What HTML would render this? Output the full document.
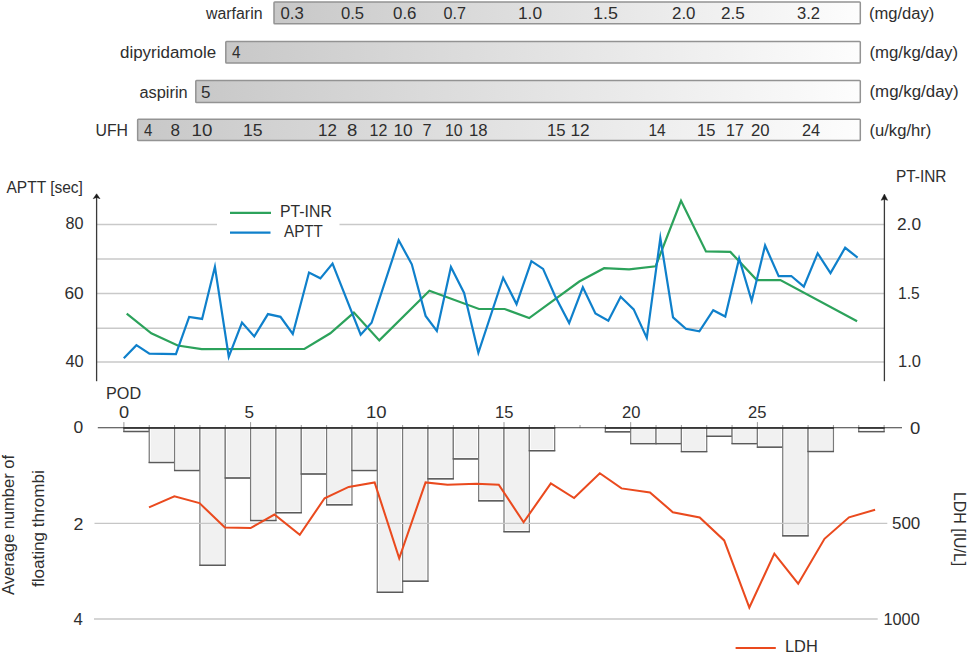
<!DOCTYPE html>
<html><head><meta charset="utf-8"><style>
html,body{margin:0;padding:0;background:#fff;width:967px;height:654px;overflow:hidden}
svg{display:block}
text{font-family:"Liberation Sans", sans-serif;fill:#2e2e2e}
</style></head><body>
<svg width="967" height="654" viewBox="0 0 967 654">
<defs>
<linearGradient id="gb" x1="0" x2="1" y1="0" y2="0">
<stop offset="0" stop-color="#c8c8c8"/><stop offset="1" stop-color="#fdfdfd"/>
</linearGradient>
</defs>

<rect x="274.0" y="1.95" width="586.30" height="21.75" rx="0.8" fill="url(#gb)" stroke="#939393" stroke-width="1.5"/>
<rect x="225.8" y="41.4" width="634.50" height="21.65" rx="0.8" fill="url(#gb)" stroke="#939393" stroke-width="1.5"/>
<rect x="195.8" y="80.55" width="664.50" height="21.90" rx="0.8" fill="url(#gb)" stroke="#939393" stroke-width="1.5"/>
<rect x="137.65" y="119.15" width="722.65" height="21.45" rx="0.8" fill="url(#gb)" stroke="#939393" stroke-width="1.5"/>
<line x1="96.5" y1="224.4" x2="217" y2="224.4" stroke="#c9c9c9" stroke-width="1.5"/>
<line x1="339.5" y1="224.4" x2="884" y2="224.4" stroke="#c9c9c9" stroke-width="1.5"/>
<line x1="96.5" y1="259.0" x2="884" y2="259.0" stroke="#c9c9c9" stroke-width="1.5"/>
<line x1="96.5" y1="293.5" x2="884" y2="293.5" stroke="#c9c9c9" stroke-width="1.5"/>
<line x1="96.5" y1="328.2" x2="884" y2="328.2" stroke="#c9c9c9" stroke-width="1.5"/>
<line x1="96.5" y1="362.0" x2="884" y2="362.0" stroke="#c9c9c9" stroke-width="1.5"/>
<line x1="96.6" y1="381.2" x2="96.6" y2="196.8" stroke="#3a3a3a" stroke-width="1.3"/>
<path d="M96.6 193.8 L100.0 198.70000000000002 L96.6 197.4 L93.19999999999999 198.70000000000002 Z" fill="#1a1a1a" stroke="#1a1a1a" stroke-width="0.5" stroke-linejoin="round"/>
<line x1="884.4" y1="381.2" x2="884.4" y2="197.0" stroke="#3a3a3a" stroke-width="1.3"/>
<path d="M884.4 194.0 L887.6 200.3 L884.4 199.3 L881.1999999999999 200.3 Z" fill="#1a1a1a" stroke="#1a1a1a" stroke-width="0.5" stroke-linejoin="round"/>
<line x1="230" y1="212.8" x2="271" y2="212.8" stroke="#2ca25b" stroke-width="2.2"/>
<line x1="230" y1="232.7" x2="270.5" y2="232.7" stroke="#0f80cb" stroke-width="2.2"/>
<polyline points="126.70,313.60 151.30,333.30 177.70,345.50 201.70,349.10 304.39,348.88 330.30,333.30 353.89,312.60 379.31,340.38 429.42,290.69 479.00,308.99 504.70,309.01 529.19,318.13 579.30,281.50 604.10,268.22 629.10,269.30 655.65,266.23 681.03,200.75 705.95,251.43 730.38,251.94 756.82,280.06 780.40,280.11 857.10,321.30" fill="none" stroke="#2ca25b" stroke-width="2.2" stroke-linejoin="miter" stroke-miterlimit="20"/>
<polyline points="123.80,358.30 136.42,345.15 149.41,353.68 175.93,354.10 189.18,316.93 202.10,318.94 214.91,266.86 228.76,356.79 241.99,322.58 254.27,336.44 267.95,314.11 280.48,316.83 292.78,334.01 309.02,272.58 320.37,278.35 332.53,263.59 360.68,334.66 371.59,322.79 398.67,240.27 411.80,264.30 425.61,315.90 436.85,330.99 450.93,266.91 464.10,292.90 478.36,352.83 503.16,277.74 516.55,304.08 531.40,261.11 543.08,268.91 554.80,295.40 569.16,323.05 582.83,287.30 595.42,313.58 608.33,320.69 620.66,296.75 633.69,309.40 646.80,337.97 660.34,238.06 673.03,317.38 685.91,328.78 699.36,331.40 713.24,310.18 725.27,316.50 739.13,258.52 751.67,300.88 765.10,245.50 778.66,276.21 791.29,276.03 803.82,286.65 817.65,253.30 830.49,273.12 845.15,247.77 857.60,257.60" fill="none" stroke="#0f80cb" stroke-width="2.2" stroke-linejoin="miter" stroke-miterlimit="20"/>
<line x1="123.90" y1="422.1" x2="123.90" y2="427.8" stroke="#9a9a9a" stroke-width="1"/>
<line x1="149.24" y1="425.0" x2="149.24" y2="427.8" stroke="#9a9a9a" stroke-width="1"/>
<line x1="174.58" y1="425.0" x2="174.58" y2="427.8" stroke="#9a9a9a" stroke-width="1"/>
<line x1="199.92" y1="425.0" x2="199.92" y2="427.8" stroke="#9a9a9a" stroke-width="1"/>
<line x1="225.26" y1="425.0" x2="225.26" y2="427.8" stroke="#9a9a9a" stroke-width="1"/>
<line x1="250.60" y1="422.1" x2="250.60" y2="427.8" stroke="#9a9a9a" stroke-width="1"/>
<line x1="275.94" y1="425.0" x2="275.94" y2="427.8" stroke="#9a9a9a" stroke-width="1"/>
<line x1="301.28" y1="425.0" x2="301.28" y2="427.8" stroke="#9a9a9a" stroke-width="1"/>
<line x1="326.62" y1="425.0" x2="326.62" y2="427.8" stroke="#9a9a9a" stroke-width="1"/>
<line x1="351.96" y1="425.0" x2="351.96" y2="427.8" stroke="#9a9a9a" stroke-width="1"/>
<line x1="377.30" y1="422.1" x2="377.30" y2="427.8" stroke="#9a9a9a" stroke-width="1"/>
<line x1="402.64" y1="425.0" x2="402.64" y2="427.8" stroke="#9a9a9a" stroke-width="1"/>
<line x1="427.98" y1="425.0" x2="427.98" y2="427.8" stroke="#9a9a9a" stroke-width="1"/>
<line x1="453.32" y1="425.0" x2="453.32" y2="427.8" stroke="#9a9a9a" stroke-width="1"/>
<line x1="478.66" y1="425.0" x2="478.66" y2="427.8" stroke="#9a9a9a" stroke-width="1"/>
<line x1="504.00" y1="422.1" x2="504.00" y2="427.8" stroke="#9a9a9a" stroke-width="1"/>
<line x1="529.34" y1="425.0" x2="529.34" y2="427.8" stroke="#9a9a9a" stroke-width="1"/>
<line x1="554.68" y1="425.0" x2="554.68" y2="427.8" stroke="#9a9a9a" stroke-width="1"/>
<line x1="580.02" y1="425.0" x2="580.02" y2="427.8" stroke="#9a9a9a" stroke-width="1"/>
<line x1="605.36" y1="425.0" x2="605.36" y2="427.8" stroke="#9a9a9a" stroke-width="1"/>
<line x1="630.70" y1="422.1" x2="630.70" y2="427.8" stroke="#9a9a9a" stroke-width="1"/>
<line x1="656.04" y1="425.0" x2="656.04" y2="427.8" stroke="#9a9a9a" stroke-width="1"/>
<line x1="681.38" y1="425.0" x2="681.38" y2="427.8" stroke="#9a9a9a" stroke-width="1"/>
<line x1="706.72" y1="425.0" x2="706.72" y2="427.8" stroke="#9a9a9a" stroke-width="1"/>
<line x1="732.06" y1="425.0" x2="732.06" y2="427.8" stroke="#9a9a9a" stroke-width="1"/>
<line x1="757.40" y1="422.1" x2="757.40" y2="427.8" stroke="#9a9a9a" stroke-width="1"/>
<line x1="782.74" y1="425.0" x2="782.74" y2="427.8" stroke="#9a9a9a" stroke-width="1"/>
<line x1="808.08" y1="425.0" x2="808.08" y2="427.8" stroke="#9a9a9a" stroke-width="1"/>
<line x1="833.42" y1="425.0" x2="833.42" y2="427.8" stroke="#9a9a9a" stroke-width="1"/>
<line x1="858.76" y1="425.0" x2="858.76" y2="427.8" stroke="#9a9a9a" stroke-width="1"/>
<line x1="884.10" y1="425.0" x2="884.10" y2="427.8" stroke="#9a9a9a" stroke-width="1"/>
<rect x="123.90" y="427.8" width="25.34" height="3.70" fill="#fff" stroke="#7a7a7a" stroke-width="1.25"/>
<line x1="123.30" y1="431.50" x2="149.84" y2="431.50" stroke="#5a5a5a" stroke-width="1.35"/>
<rect x="149.24" y="427.8" width="25.34" height="34.70" fill="#fff" stroke="#7a7a7a" stroke-width="1.25"/>
<line x1="148.64" y1="462.50" x2="175.18" y2="462.50" stroke="#5a5a5a" stroke-width="1.35"/>
<rect x="150.74" y="429.3" width="22.34" height="31.80" fill="#f1f1f1"/>
<rect x="174.58" y="427.8" width="25.34" height="42.70" fill="#fff" stroke="#7a7a7a" stroke-width="1.25"/>
<line x1="173.98" y1="470.50" x2="200.52" y2="470.50" stroke="#5a5a5a" stroke-width="1.35"/>
<rect x="176.08" y="429.3" width="22.34" height="39.80" fill="#f1f1f1"/>
<rect x="199.92" y="427.8" width="25.34" height="137.50" fill="#fff" stroke="#7a7a7a" stroke-width="1.25"/>
<line x1="199.32" y1="565.30" x2="225.86" y2="565.30" stroke="#5a5a5a" stroke-width="1.35"/>
<rect x="201.42" y="429.3" width="22.34" height="134.60" fill="#f1f1f1"/>
<rect x="225.26" y="427.8" width="25.34" height="50.20" fill="#fff" stroke="#7a7a7a" stroke-width="1.25"/>
<line x1="224.66" y1="478.00" x2="251.20" y2="478.00" stroke="#5a5a5a" stroke-width="1.35"/>
<rect x="226.76" y="429.3" width="22.34" height="47.30" fill="#f1f1f1"/>
<rect x="250.60" y="427.8" width="25.34" height="92.70" fill="#fff" stroke="#7a7a7a" stroke-width="1.25"/>
<line x1="250.00" y1="520.50" x2="276.54" y2="520.50" stroke="#5a5a5a" stroke-width="1.35"/>
<rect x="252.10" y="429.3" width="22.34" height="89.80" fill="#f1f1f1"/>
<rect x="275.94" y="427.8" width="25.34" height="84.90" fill="#fff" stroke="#7a7a7a" stroke-width="1.25"/>
<line x1="275.34" y1="512.70" x2="301.88" y2="512.70" stroke="#5a5a5a" stroke-width="1.35"/>
<rect x="277.44" y="429.3" width="22.34" height="82.00" fill="#f1f1f1"/>
<rect x="301.28" y="427.8" width="25.34" height="46.20" fill="#fff" stroke="#7a7a7a" stroke-width="1.25"/>
<line x1="300.68" y1="474.00" x2="327.22" y2="474.00" stroke="#5a5a5a" stroke-width="1.35"/>
<rect x="302.78" y="429.3" width="22.34" height="43.30" fill="#f1f1f1"/>
<rect x="326.62" y="427.8" width="25.34" height="77.00" fill="#fff" stroke="#7a7a7a" stroke-width="1.25"/>
<line x1="326.02" y1="504.80" x2="352.56" y2="504.80" stroke="#5a5a5a" stroke-width="1.35"/>
<rect x="328.12" y="429.3" width="22.34" height="74.10" fill="#f1f1f1"/>
<rect x="351.96" y="427.8" width="25.34" height="42.70" fill="#fff" stroke="#7a7a7a" stroke-width="1.25"/>
<line x1="351.36" y1="470.50" x2="377.90" y2="470.50" stroke="#5a5a5a" stroke-width="1.35"/>
<rect x="353.46" y="429.3" width="22.34" height="39.80" fill="#f1f1f1"/>
<rect x="377.30" y="427.8" width="25.34" height="164.50" fill="#fff" stroke="#7a7a7a" stroke-width="1.25"/>
<line x1="376.70" y1="592.30" x2="403.24" y2="592.30" stroke="#5a5a5a" stroke-width="1.35"/>
<rect x="378.80" y="429.3" width="22.34" height="161.60" fill="#f1f1f1"/>
<rect x="402.64" y="427.8" width="25.34" height="153.40" fill="#fff" stroke="#7a7a7a" stroke-width="1.25"/>
<line x1="402.04" y1="581.20" x2="428.58" y2="581.20" stroke="#5a5a5a" stroke-width="1.35"/>
<rect x="404.14" y="429.3" width="22.34" height="150.50" fill="#f1f1f1"/>
<rect x="427.98" y="427.8" width="25.34" height="51.00" fill="#fff" stroke="#7a7a7a" stroke-width="1.25"/>
<line x1="427.38" y1="478.80" x2="453.92" y2="478.80" stroke="#5a5a5a" stroke-width="1.35"/>
<rect x="429.48" y="429.3" width="22.34" height="48.10" fill="#f1f1f1"/>
<rect x="453.32" y="427.8" width="25.34" height="31.10" fill="#fff" stroke="#7a7a7a" stroke-width="1.25"/>
<line x1="452.72" y1="458.90" x2="479.26" y2="458.90" stroke="#5a5a5a" stroke-width="1.35"/>
<rect x="454.82" y="429.3" width="22.34" height="28.20" fill="#f1f1f1"/>
<rect x="478.66" y="427.8" width="25.34" height="73.00" fill="#fff" stroke="#7a7a7a" stroke-width="1.25"/>
<line x1="478.06" y1="500.80" x2="504.60" y2="500.80" stroke="#5a5a5a" stroke-width="1.35"/>
<rect x="480.16" y="429.3" width="22.34" height="70.10" fill="#f1f1f1"/>
<rect x="504.00" y="427.8" width="25.34" height="103.90" fill="#fff" stroke="#7a7a7a" stroke-width="1.25"/>
<line x1="503.40" y1="531.70" x2="529.94" y2="531.70" stroke="#5a5a5a" stroke-width="1.35"/>
<rect x="505.50" y="429.3" width="22.34" height="101.00" fill="#f1f1f1"/>
<rect x="529.34" y="427.8" width="25.34" height="22.90" fill="#fff" stroke="#7a7a7a" stroke-width="1.25"/>
<line x1="528.74" y1="450.70" x2="555.28" y2="450.70" stroke="#5a5a5a" stroke-width="1.35"/>
<rect x="530.84" y="429.3" width="22.34" height="20.00" fill="#f1f1f1"/>
<rect x="605.36" y="427.8" width="25.34" height="4.00" fill="#fff" stroke="#7a7a7a" stroke-width="1.25"/>
<line x1="604.76" y1="431.80" x2="631.30" y2="431.80" stroke="#5a5a5a" stroke-width="1.35"/>
<rect x="630.70" y="427.8" width="25.34" height="15.80" fill="#fff" stroke="#7a7a7a" stroke-width="1.25"/>
<line x1="630.10" y1="443.60" x2="656.64" y2="443.60" stroke="#5a5a5a" stroke-width="1.35"/>
<rect x="632.20" y="429.3" width="22.34" height="12.90" fill="#f1f1f1"/>
<rect x="656.04" y="427.8" width="25.34" height="15.80" fill="#fff" stroke="#7a7a7a" stroke-width="1.25"/>
<line x1="655.44" y1="443.60" x2="681.98" y2="443.60" stroke="#5a5a5a" stroke-width="1.35"/>
<rect x="657.54" y="429.3" width="22.34" height="12.90" fill="#f1f1f1"/>
<rect x="681.38" y="427.8" width="25.34" height="23.80" fill="#fff" stroke="#7a7a7a" stroke-width="1.25"/>
<line x1="680.78" y1="451.60" x2="707.32" y2="451.60" stroke="#5a5a5a" stroke-width="1.35"/>
<rect x="682.88" y="429.3" width="22.34" height="20.90" fill="#f1f1f1"/>
<rect x="706.72" y="427.8" width="25.34" height="8.50" fill="#fff" stroke="#7a7a7a" stroke-width="1.25"/>
<line x1="706.12" y1="436.30" x2="732.66" y2="436.30" stroke="#5a5a5a" stroke-width="1.35"/>
<rect x="708.22" y="429.3" width="22.34" height="5.60" fill="#f1f1f1"/>
<rect x="732.06" y="427.8" width="25.34" height="15.80" fill="#fff" stroke="#7a7a7a" stroke-width="1.25"/>
<line x1="731.46" y1="443.60" x2="758.00" y2="443.60" stroke="#5a5a5a" stroke-width="1.35"/>
<rect x="733.56" y="429.3" width="22.34" height="12.90" fill="#f1f1f1"/>
<rect x="757.40" y="427.8" width="25.34" height="19.40" fill="#fff" stroke="#7a7a7a" stroke-width="1.25"/>
<line x1="756.80" y1="447.20" x2="783.34" y2="447.20" stroke="#5a5a5a" stroke-width="1.35"/>
<rect x="758.90" y="429.3" width="22.34" height="16.50" fill="#f1f1f1"/>
<rect x="782.74" y="427.8" width="25.34" height="108.00" fill="#fff" stroke="#7a7a7a" stroke-width="1.25"/>
<line x1="782.14" y1="535.80" x2="808.68" y2="535.80" stroke="#5a5a5a" stroke-width="1.35"/>
<rect x="784.24" y="429.3" width="22.34" height="105.10" fill="#f1f1f1"/>
<rect x="808.08" y="427.8" width="25.34" height="23.70" fill="#fff" stroke="#7a7a7a" stroke-width="1.25"/>
<line x1="807.48" y1="451.50" x2="834.02" y2="451.50" stroke="#5a5a5a" stroke-width="1.35"/>
<rect x="809.58" y="429.3" width="22.34" height="20.80" fill="#f1f1f1"/>
<rect x="858.76" y="427.8" width="25.34" height="3.80" fill="#fff" stroke="#7a7a7a" stroke-width="1.25"/>
<line x1="858.16" y1="431.60" x2="884.70" y2="431.60" stroke="#5a5a5a" stroke-width="1.35"/>
<line x1="97.8" y1="427.8" x2="902" y2="427.8" stroke="#3a3a3a" stroke-width="1.1"/>
<line x1="123.30" y1="428.0" x2="149.84" y2="428.0" stroke="#333" stroke-width="1.6"/>
<line x1="148.64" y1="428.0" x2="175.18" y2="428.0" stroke="#333" stroke-width="1.6"/>
<line x1="173.98" y1="428.0" x2="200.52" y2="428.0" stroke="#333" stroke-width="1.6"/>
<line x1="199.32" y1="428.0" x2="225.86" y2="428.0" stroke="#333" stroke-width="1.6"/>
<line x1="224.66" y1="428.0" x2="251.20" y2="428.0" stroke="#333" stroke-width="1.6"/>
<line x1="250.00" y1="428.0" x2="276.54" y2="428.0" stroke="#333" stroke-width="1.6"/>
<line x1="275.34" y1="428.0" x2="301.88" y2="428.0" stroke="#333" stroke-width="1.6"/>
<line x1="300.68" y1="428.0" x2="327.22" y2="428.0" stroke="#333" stroke-width="1.6"/>
<line x1="326.02" y1="428.0" x2="352.56" y2="428.0" stroke="#333" stroke-width="1.6"/>
<line x1="351.36" y1="428.0" x2="377.90" y2="428.0" stroke="#333" stroke-width="1.6"/>
<line x1="376.70" y1="428.0" x2="403.24" y2="428.0" stroke="#333" stroke-width="1.6"/>
<line x1="402.04" y1="428.0" x2="428.58" y2="428.0" stroke="#333" stroke-width="1.6"/>
<line x1="427.38" y1="428.0" x2="453.92" y2="428.0" stroke="#333" stroke-width="1.6"/>
<line x1="452.72" y1="428.0" x2="479.26" y2="428.0" stroke="#333" stroke-width="1.6"/>
<line x1="478.06" y1="428.0" x2="504.60" y2="428.0" stroke="#333" stroke-width="1.6"/>
<line x1="503.40" y1="428.0" x2="529.94" y2="428.0" stroke="#333" stroke-width="1.6"/>
<line x1="528.74" y1="428.0" x2="555.28" y2="428.0" stroke="#333" stroke-width="1.6"/>
<line x1="604.76" y1="428.0" x2="631.30" y2="428.0" stroke="#333" stroke-width="1.6"/>
<line x1="630.10" y1="428.0" x2="656.64" y2="428.0" stroke="#333" stroke-width="1.6"/>
<line x1="655.44" y1="428.0" x2="681.98" y2="428.0" stroke="#333" stroke-width="1.6"/>
<line x1="680.78" y1="428.0" x2="707.32" y2="428.0" stroke="#333" stroke-width="1.6"/>
<line x1="706.12" y1="428.0" x2="732.66" y2="428.0" stroke="#333" stroke-width="1.6"/>
<line x1="731.46" y1="428.0" x2="758.00" y2="428.0" stroke="#333" stroke-width="1.6"/>
<line x1="756.80" y1="428.0" x2="783.34" y2="428.0" stroke="#333" stroke-width="1.6"/>
<line x1="782.14" y1="428.0" x2="808.68" y2="428.0" stroke="#333" stroke-width="1.6"/>
<line x1="807.48" y1="428.0" x2="834.02" y2="428.0" stroke="#333" stroke-width="1.6"/>
<line x1="858.16" y1="428.0" x2="884.70" y2="428.0" stroke="#333" stroke-width="1.6"/>
<line x1="94.5" y1="523.45" x2="887.3" y2="523.45" stroke="#c6c6c6" stroke-width="1.2"/>
<line x1="94" y1="618.9" x2="877.7" y2="618.9" stroke="#d5d5d5" stroke-width="2"/>
<polyline points="149.00,507.40 174.40,496.33 199.49,503.11 224.91,527.47 250.60,528.08 274.39,514.50 299.77,534.78 324.61,498.21 348.70,486.90 374.62,482.43 399.21,558.29 425.57,482.41 447.50,484.70 476.50,483.80 498.77,484.75 523.60,522.23 550.84,483.38 574.09,498.07 599.81,473.24 621.50,488.39 649.99,492.42 672.81,512.19 699.69,517.42 724.19,540.41 749.33,607.55 774.35,553.63 798.18,583.74 824.50,538.80 849.01,517.31 875.10,509.80" fill="none" stroke="#ea4a1e" stroke-width="2.05" stroke-linejoin="miter" stroke-miterlimit="20"/>
<line x1="735.6" y1="648" x2="775.8" y2="648" stroke="#ea4a1e" stroke-width="2.2"/>
<text x="206.00" y="19.1" font-size="16" textLength="56.51" lengthAdjust="spacingAndGlyphs">warfarin</text>
<text x="120.00" y="58.2" font-size="16" textLength="96.12" lengthAdjust="spacingAndGlyphs">dipyridamole</text>
<text x="139.50" y="97.5" font-size="16" textLength="48.14" lengthAdjust="spacingAndGlyphs">aspirin</text>
<text x="95.50" y="135.9" font-size="16" textLength="32.49" lengthAdjust="spacingAndGlyphs">UFH</text>
<text x="869.00" y="19.1" font-size="16" textLength="65.32" lengthAdjust="spacingAndGlyphs">(mg/day)</text>
<text x="869.50" y="58.2" font-size="16" textLength="88.47" lengthAdjust="spacingAndGlyphs">(mg/kg/day)</text>
<text x="869.50" y="97.3" font-size="16" textLength="89.07" lengthAdjust="spacingAndGlyphs">(mg/kg/day)</text>
<text x="869.50" y="135.7" font-size="16" textLength="61.78" lengthAdjust="spacingAndGlyphs">(u/kg/hr)</text>
<text x="6.50" y="193.2" font-size="16" textLength="76.44" lengthAdjust="spacingAndGlyphs">APTT [sec]</text>
<text x="896.00" y="181.8" font-size="16" textLength="50.45" lengthAdjust="spacingAndGlyphs">PT-INR</text>
<text x="65.50" y="229.4" font-size="16" textLength="18.00" lengthAdjust="spacingAndGlyphs">80</text>
<text x="64.50" y="298.7" font-size="16" textLength="19.20" lengthAdjust="spacingAndGlyphs">60</text>
<text x="65.50" y="366.7" font-size="16" textLength="18.20" lengthAdjust="spacingAndGlyphs">40</text>
<text x="897.00" y="230.0" font-size="16" textLength="24.05" lengthAdjust="spacingAndGlyphs">2.0</text>
<text x="898.00" y="299.0" font-size="16" textLength="21.65" lengthAdjust="spacingAndGlyphs">1.5</text>
<text x="898.00" y="366.8" font-size="16" textLength="22.85" lengthAdjust="spacingAndGlyphs">1.0</text>
<text x="280.00" y="217.0" font-size="16" textLength="51.85" lengthAdjust="spacingAndGlyphs">PT-INR</text>
<text x="284.00" y="237.2" font-size="16" textLength="38.89" lengthAdjust="spacingAndGlyphs">APTT</text>
<text x="106.00" y="399.2" font-size="16" textLength="35.07" lengthAdjust="spacingAndGlyphs">POD</text>
<text x="119.00" y="417.5" font-size="16" textLength="10.11" lengthAdjust="spacingAndGlyphs">0</text>
<text x="244.50" y="417.5" font-size="16" textLength="9.51" lengthAdjust="spacingAndGlyphs">5</text>
<text x="366.00" y="417.5" font-size="16" textLength="20.60" lengthAdjust="spacingAndGlyphs">10</text>
<text x="495.00" y="417.5" font-size="16" textLength="18.40" lengthAdjust="spacingAndGlyphs">15</text>
<text x="622.00" y="417.5" font-size="16" textLength="18.40" lengthAdjust="spacingAndGlyphs">20</text>
<text x="748.00" y="417.5" font-size="16" textLength="18.40" lengthAdjust="spacingAndGlyphs">25</text>
<text x="73.50" y="432.7" font-size="16" textLength="9.71" lengthAdjust="spacingAndGlyphs">0</text>
<text x="73.50" y="530.4" font-size="16" textLength="9.91" lengthAdjust="spacingAndGlyphs">2</text>
<text x="73.50" y="624.7" font-size="16" textLength="9.31" lengthAdjust="spacingAndGlyphs">4</text>
<text x="910.00" y="434.2" font-size="16" textLength="10.31" lengthAdjust="spacingAndGlyphs">0</text>
<text x="892.00" y="529.3" font-size="16" textLength="28.30" lengthAdjust="spacingAndGlyphs">500</text>
<text x="883.50" y="624.5" font-size="16" textLength="36.19" lengthAdjust="spacingAndGlyphs">1000</text>
<text x="785.00" y="651.6" font-size="16" textLength="32.82" lengthAdjust="spacingAndGlyphs">LDH</text>
<text transform="translate(14.3,595.00) rotate(-90)" font-size="16" textLength="140.00" lengthAdjust="spacingAndGlyphs">Average number of</text>
<text transform="translate(44.2,587.00) rotate(-90)" font-size="16" textLength="116.79" lengthAdjust="spacingAndGlyphs">floating thrombi</text>
<text transform="translate(953.7,492.00) rotate(90)" font-size="16" textLength="74.29" lengthAdjust="spacingAndGlyphs">LDH [IU/L]</text>
<text x="232.00" y="58.2" font-size="16" textLength="8.51" lengthAdjust="spacingAndGlyphs">4</text>
<text x="201.00" y="97.5" font-size="16" textLength="9.51" lengthAdjust="spacingAndGlyphs">5</text>
<text x="280.50" y="19.1" font-size="16" textLength="23.25" lengthAdjust="spacingAndGlyphs">0.3</text>
<text x="341.00" y="19.1" font-size="16" textLength="23.05" lengthAdjust="spacingAndGlyphs">0.5</text>
<text x="393.00" y="19.1" font-size="16" textLength="23.45" lengthAdjust="spacingAndGlyphs">0.6</text>
<text x="443.50" y="19.1" font-size="16" textLength="22.45" lengthAdjust="spacingAndGlyphs">0.7</text>
<text x="518.00" y="19.1" font-size="16" textLength="24.05" lengthAdjust="spacingAndGlyphs">1.0</text>
<text x="593.00" y="19.1" font-size="16" textLength="24.85" lengthAdjust="spacingAndGlyphs">1.5</text>
<text x="672.00" y="19.1" font-size="16" textLength="23.45" lengthAdjust="spacingAndGlyphs">2.0</text>
<text x="721.00" y="19.1" font-size="16" textLength="23.85" lengthAdjust="spacingAndGlyphs">2.5</text>
<text x="797.00" y="19.1" font-size="16" textLength="23.05" lengthAdjust="spacingAndGlyphs">3.2</text>
<text x="144.00" y="135.9" font-size="16" textLength="8.31" lengthAdjust="spacingAndGlyphs">4</text>
<text x="170.50" y="135.9" font-size="16" textLength="9.51" lengthAdjust="spacingAndGlyphs">8</text>
<text x="191.50" y="135.9" font-size="16" textLength="20.80" lengthAdjust="spacingAndGlyphs">10</text>
<text x="243.00" y="135.9" font-size="16" textLength="19.60" lengthAdjust="spacingAndGlyphs">15</text>
<text x="318.00" y="135.9" font-size="16" textLength="18.80" lengthAdjust="spacingAndGlyphs">12</text>
<text x="347.00" y="135.9" font-size="16" textLength="10.31" lengthAdjust="spacingAndGlyphs">8</text>
<text x="369.50" y="135.9" font-size="16" textLength="17.80" lengthAdjust="spacingAndGlyphs">12</text>
<text x="393.50" y="135.9" font-size="16" textLength="19.20" lengthAdjust="spacingAndGlyphs">10</text>
<text x="422.50" y="135.9" font-size="16" textLength="9.11" lengthAdjust="spacingAndGlyphs">7</text>
<text x="445.00" y="135.9" font-size="16" textLength="17.60" lengthAdjust="spacingAndGlyphs">10</text>
<text x="469.00" y="135.9" font-size="16" textLength="18.60" lengthAdjust="spacingAndGlyphs">18</text>
<text x="547.00" y="135.9" font-size="16" textLength="18.60" lengthAdjust="spacingAndGlyphs">15</text>
<text x="570.50" y="135.9" font-size="16" textLength="19.20" lengthAdjust="spacingAndGlyphs">12</text>
<text x="648.50" y="135.9" font-size="16" textLength="17.20" lengthAdjust="spacingAndGlyphs">14</text>
<text x="697.00" y="135.9" font-size="16" textLength="18.40" lengthAdjust="spacingAndGlyphs">15</text>
<text x="726.00" y="135.9" font-size="16" textLength="17.80" lengthAdjust="spacingAndGlyphs">17</text>
<text x="751.00" y="135.9" font-size="16" textLength="18.60" lengthAdjust="spacingAndGlyphs">20</text>
<text x="802.00" y="135.9" font-size="16" textLength="18.20" lengthAdjust="spacingAndGlyphs">24</text>
</svg></body></html>
